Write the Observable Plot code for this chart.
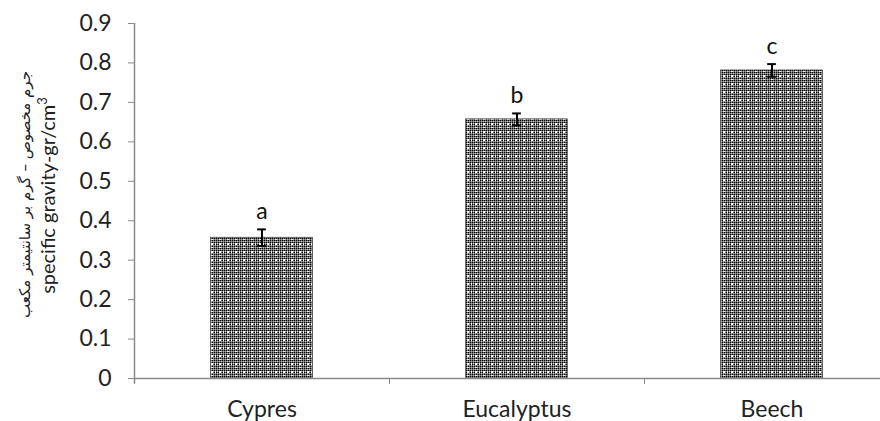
<!DOCTYPE html>
<html>
<head>
<meta charset="utf-8">
<script src="https://cdn.jsdelivr.net/npm/d3@7"></script>
<script src="https://cdn.jsdelivr.net/npm/@observablehq/plot@0.6"></script>
<style>
  body { margin: 0; background: #fff; }
  svg { font-family: Lato, "Open Sans", sans-serif; }
</style>
</head>
<body>
<div id="chart"></div>
<script>
const categories = ["Cypres", "Eucalyptus", "Beech"];
const means = [0.357, 0.657, 0.781];
const errors = [0.021, 0.015, 0.016];
const letters = ["a", "b", "c"];
const yTicks = [0, 0.1, 0.2, 0.3, 0.4, 0.5, 0.6, 0.7, 0.8, 0.9];
const titleFa = "جرم مخصوص – گرم بر سانتیمتر مکعب";
const titleEn = "specific gravity-gr/cm";
const titleEnSup = "3";

const data = categories.map((c, i) => ({i, c, mean: means[i], err: errors[i], letter: letters[i]}));

const plot = Plot.plot({
  width: 880,
  height: 421,
  marginLeft: 134,
  marginRight: 0,
  marginTop: 23,
  marginBottom: 43,
  x: {type: "linear", domain: [0, 3], range: [134, 899]},
  y: {domain: [0, 0.9]},
  marks: [
    Plot.rectY(data, {x1: d => d.i + 0.3, x2: d => d.i + 0.7, y: "mean", fill: "url(#pat)", stroke: "#333", strokeWidth: 0.6}),
    Plot.ruleY([0], {stroke: "#8a8a8a", strokeWidth: 1.5}),
    Plot.ruleX([0], {y1: -0.013, y2: 0.9, stroke: "#8a8a8a", strokeWidth: 1.5}),
    Plot.axisY({ticks: yTicks, tickSize: 6, tickPadding: 17, fontSize: 23, stroke: "#8a8a8a", fill: "#222",
      tickFormat: d => d === 0 ? "0" : d.toFixed(1), label: null}),
    Plot.axisX({ticks: [0, 1, 2, 3], tickSize: 6, tickFormat: () => "", stroke: "#8a8a8a", label: null}),
    Plot.axisX({ticks: [0.5, 1.5, 2.5], tickSize: 0, tickPadding: 22, fontSize: 23, fill: "#222",
      tickFormat: v => categories[Math.floor(v)], label: null}),
    Plot.ruleX(data, {x: d => d.i + 0.5, y1: d => d.mean - d.err, y2: d => d.mean + d.err, stroke: "#000", strokeWidth: 2}),
    Plot.ruleY(data, {y: d => d.mean + d.err, x1: d => d.i + 0.483, x2: d => d.i + 0.517, stroke: "#000", strokeWidth: 2}),
    Plot.ruleY(data, {y: d => d.mean - d.err, x1: d => d.i + 0.483, x2: d => d.i + 0.517, stroke: "#000", strokeWidth: 2}),
    Plot.text(data, {x: d => d.i + 0.5, y: d => d.mean + d.err, text: "letter", dy: -18, fontSize: 23, fill: "#111"})
  ]
});

const svg = d3.select(plot);
const defs = svg.insert("defs", ":first-child");
const pat = defs.append("pattern").attr("id", "pat").attr("patternUnits", "userSpaceOnUse")
  .attr("width", 8).attr("height", 8).attr("shape-rendering", "crispEdges");
pat.append("rect").attr("width", 8).attr("height", 8).attr("fill", "#6f6f6f");
for (let x = 0; x < 8; x += 2) for (let y = 0; y < 8; y += 2) {
  pat.append("rect").attr("x", x).attr("y", y).attr("width", 1).attr("height", 1).attr("fill", "#000");
}
for (let x = 1; x < 8; x += 2) for (let y = 1; y < 8; y += 2) {
  pat.append("rect").attr("x", x).attr("y", y).attr("width", 1).attr("height", 1).attr("fill", "#b5b5b5");
}
pat.append("rect").attr("x", 3).attr("y", 3).attr("width", 2).attr("height", 2).attr("fill", "#fff");
pat.append("rect").attr("x", 7).attr("y", 3).attr("width", 1).attr("height", 2).attr("fill", "#eee");
pat.append("rect").attr("x", 3).attr("y", 7).attr("width", 2).attr("height", 1).attr("fill", "#eee");

const cy = (23 + 378) / 2;
svg.append("text")
  .attr("transform", `translate(30,${cy - 6}) rotate(-90)`)
  .attr("text-anchor", "middle")
  .attr("font-family", "'DejaVu Sans', sans-serif")
  .attr("font-size", 15)
  .attr("fill", "#222")
  .attr("direction", "rtl")
  .text(titleFa);
const en = svg.append("text")
  .attr("transform", `translate(55,${cy - 5}) rotate(-90)`)
  .attr("text-anchor", "middle")
  .attr("font-size", 20)
  .attr("fill", "#222");
en.append("tspan").text(titleEn);
en.append("tspan").attr("dy", -8).attr("font-size", 13).text(titleEnSup);

document.getElementById("chart").appendChild(plot);
</script>
</body>
</html>
